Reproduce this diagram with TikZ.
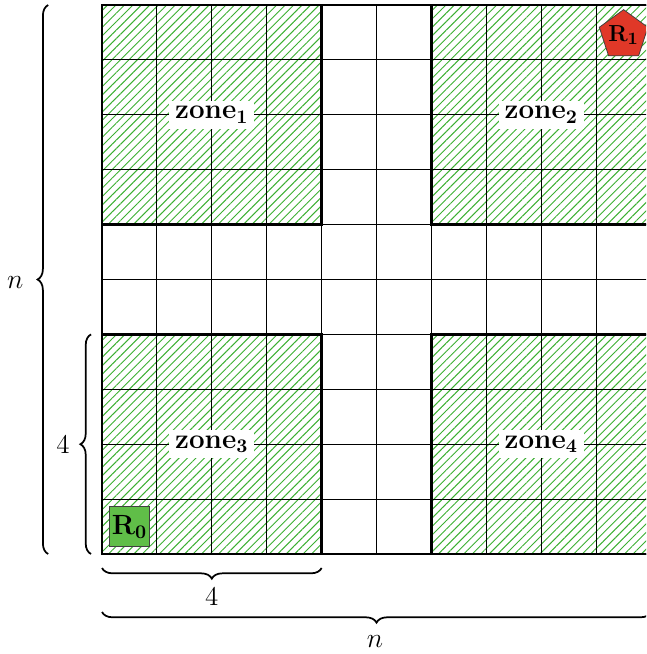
\documentclass[tikz,border=0pt]{standalone}
\usetikzlibrary{patterns.meta,decorations.pathreplacing,shapes.geometric}
\definecolor{hatch}{RGB}{60,175,50}
\definecolor{rred}{RGB}{224,56,40}
\definecolor{rgreen}{RGB}{96,190,72}
\begin{document}
\begin{tikzpicture}[
  zonefill/.style={pattern={Lines[angle=45,distance=3.1pt,line width=0.5pt]}, pattern color=hatch},
  gridline/.style={line width=0.45pt},
  boldborder/.style={line width=1.3pt},
  bracestyle/.style={decorate, decoration={brace, amplitude=5.5pt}, line width=0.9pt},
  zonelabel/.style={fill=white, inner sep=3pt, font=\fontsize{14}{16}\selectfont},
  lbl/.style={font=\fontsize{14}{16}\selectfont},
  robot/.style={inner sep=0pt, font=\fontsize{14}{16}\selectfont, draw=black!75, line width=0.4pt},
]
\useasboundingbox (-1.858,-1.821) rectangle (9.909,10.091);
\clip (-1.858,-1.821) rectangle (9.909,10.091);
% zones (hatched)
\fill[zonefill] (0,6) rectangle (4,10);
\fill[zonefill] (6,6) rectangle (10,10);
\fill[zonefill] (0,0) rectangle (4,4);
\fill[zonefill] (6,0) rectangle (10,4);
% grid
\draw[gridline] (0,0) grid (10,10);
% borders
\draw[boldborder] (0,6) rectangle (4,10);
\draw[boldborder] (6,6) rectangle (10,10);
\draw[boldborder] (0,0) rectangle (4,4);
\draw[boldborder] (6,0) rectangle (10,4);
\draw[boldborder] (0,0) rectangle (10,10);
% zone labels
\node[zonelabel] (z1) at (2,8) {$\mathbf{zone_1}$};
\node[zonelabel] (z2) at (8,8) {$\mathbf{zone_2}$};
\node[zonelabel] (z3) at (2,2) {$\mathbf{zone_3}$};
\node[zonelabel] (z4) at (8,2) {$\mathbf{zone_4}$};
% robots
\node[robot, regular polygon, regular polygon sides=5, minimum size=0.93cm, fill=rred,
      label={[font=\fontsize{13}{15}\selectfont, inner sep=0pt]center:$\mathbf{R_1}$}] (r1) at (9.5,9.45) {};
\node[robot, rectangle, minimum size=0.73cm, fill=rgreen] (r0) at (0.5,0.5) {$\mathbf{R_0}$};
% brace coordinates
\coordinate (lnb) at (-0.98,0);
\coordinate (lnt) at (-0.98,10);
\coordinate (l4b) at (-0.20,0);
\coordinate (l4t) at (-0.20,4);
\coordinate (b4l) at (0,-0.255);
\coordinate (b4r) at (4,-0.255);
\coordinate (bnl) at (0,-1.056);
\coordinate (bnr) at (10,-1.056);
\draw[bracestyle] (lnb) -- (lnt);
\draw[bracestyle] (l4b) -- (l4t);
\draw[bracestyle] (b4r) -- (b4l);
\draw[bracestyle] (bnr) -- (bnl);
\node[lbl] (ln) at (-1.58,4.95) {$n$};
\node[lbl] (l4) at (-0.71,2.0) {4};
\node[lbl] (b4) at (2.0,-0.765) {4};
\node[lbl] (bn) at (4.97,-1.60) {$n$};
\end{tikzpicture}
\end{document}
